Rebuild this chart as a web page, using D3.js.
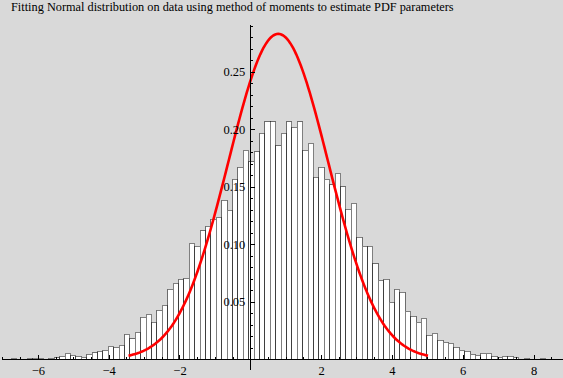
<!DOCTYPE html>
<html>
<head>
<meta charset="utf-8">
<script src="https://cdn.jsdelivr.net/npm/d3@7"></script>
<style>
  body { margin: 0; background: #d9d9d9; }
  svg text { font-family: "Liberation Serif", "Times New Roman", serif; }
</style>
</head>
<body>
<svg id="chart"></svg>
<script>
// histogram of the sample, density per bin, bins start at histStart
const histStart = -6.754
const binWidth = 0.1525
const density = [
  0.0009, 0, 0, 0.0009, 0.0009, 0.0009, 0, 0.0009, 0.0013,
  0.0026, 0.0052, 0.0035, 0.0026, 0.0017, 0.0043, 0.0055, 0.0070, 0.0078, 0.0113, 0.0104, 0.0122,
  0.0220, 0.0180, 0.0235, 0.0368, 0.0391, 0.0322, 0.0426, 0.0470, 0.0611, 0.0661, 0.0698, 0.0707,
  0.1009, 0.0983, 0.1116, 0.1159, 0.1220, 0.1235, 0.1385, 0.1298, 0.1565, 0.1670, 0.1817, 0.1716,
  0.1805, 0.1965, 0.2066, 0.2066, 0.1855, 0.1965, 0.2066, 0.2017, 0.2066, 0.1820, 0.1878, 0.1583,
  0.1670, 0.1565, 0.1518, 0.1617, 0.1501, 0.1307, 0.1359, 0.1063, 0.0983, 0.0983, 0.0831, 0.0687,
  0.0696, 0.0496, 0.0609, 0.0583, 0.0417, 0.0374, 0.0322, 0.0357, 0.0209, 0.0226, 0.0165, 0.0148,
  0.0139, 0.0104, 0.0078, 0.0070, 0.0043, 0.0035, 0.0052, 0.0052, 0.0026, 0.0017, 0.0026, 0.0026,
  0.0017, 0, 0.0009, 0, 0, 0.0009
]

// fitted normal (method of moments)
const fitMean = 0.79
const fitSd = 1.41

const xMajor = [-6, -4, -2, 2, 4, 6, 8]
const xMinor = d3.range(-7, 8.6, 0.5).filter(v => v % 2 !== 0)
const yMajor = [0.05, 0.10, 0.15, 0.20, 0.25]
const yMinor = d3.range(1, 30).map(v => v / 100).filter(v => Math.round(v * 100) % 5 !== 0)

const title = "Fitting Normal distribution on data using method of moments to estimate PDF parameters"

const width = 563, height = 378

const svg = d3.select("#chart")
    .attr("width", width)
    .attr("height", height)

svg.append("rect")
    .attr("width", width)
    .attr("height", height)
    .attr("fill", "#d9d9d9")

const x = d3.scaleLinear().domain([-7.042, 8.805]).range([1, 562])
const y = d3.scaleLinear().domain([-0.0085, 0.2913]).range([369.1, 24.3])

// bars
let bins = density.map((d, i) => ({ x0: histStart + i * binWidth, x1: histStart + (i + 1) * binWidth, v: d }))
    .filter(b => b.v > 0)

svg.append("g")
    .selectAll("rect")
    .data(bins)
    .enter()
    .append("rect")
    .attr("x", b => x(b.x0))
    .attr("width", b => x(b.x1) - x(b.x0))
    .attr("y", b => y(b.v))
    .attr("height", b => y(0) - y(b.v))
    .attr("fill", "#fff")
    .attr("stroke", "#000")
    .attr("stroke-opacity", 0.5)
    .attr("shape-rendering", "crispEdges")

// fitted curve over mean +/- 3 sd
let pdf = t => Math.exp(-((t - fitMean) ** 2) / (2 * fitSd * fitSd)) / (fitSd * Math.sqrt(2 * Math.PI))
let curvePts = d3.range(0, 201).map(k => {
    let t = fitMean - 3 * fitSd + k * (6 * fitSd / 200)
    return [t, pdf(t)]
})

svg.append("path")
    .datum(curvePts)
    .attr("fill", "none")
    .attr("stroke", "#ff0000")
    .attr("stroke-width", 2.6)
    .attr("d", d3.line().x(d => x(d[0])).y(d => y(d[1])))

// axes
let fmtX = d => d < 0 ? "\u2212" + Math.abs(d) : String(d)

svg.append("g")
    .attr("transform", `translate(0,${y(0)})`)
    .call(d3.axisBottom(x).tickValues(xMajor).tickSizeInner(-4.5).tickSizeOuter(0)
        .tickPadding(7).tickFormat(fmtX))

svg.append("g")
    .attr("transform", `translate(0,${y(0)})`)
    .call(d3.axisBottom(x).tickValues(xMinor).tickSizeInner(-2.7).tickSizeOuter(0).tickFormat(""))
    .call(g => g.select(".domain").remove())

svg.append("g")
    .attr("transform", `translate(${x(0)},0)`)
    .call(d3.axisLeft(y).tickValues(yMajor).tickSizeInner(-4.5).tickSizeOuter(0)
        .tickPadding(5).tickFormat(d3.format(".2f")))

svg.append("g")
    .attr("transform", `translate(${x(0)},0)`)
    .call(d3.axisLeft(y).tickValues(yMinor.concat([0.29])).tickSizeInner(-2.7).tickSizeOuter(0).tickFormat(""))
    .call(g => g.select(".domain").remove())

svg.selectAll(".domain, .tick line")
    .attr("stroke", "#000")
    .attr("shape-rendering", "crispEdges")

svg.selectAll(".tick text")
    .attr("fill", "#000")
    .style("font-size", "12.5px")
    .style("font-family", "'Liberation Serif', 'Times New Roman', serif")

svg.append("text")
    .attr("x", 11)
    .attr("y", 11)
    .style("font-size", "12.3px")
    .attr("fill", "#000")
    .text(title)
</script>
</body>
</html>
